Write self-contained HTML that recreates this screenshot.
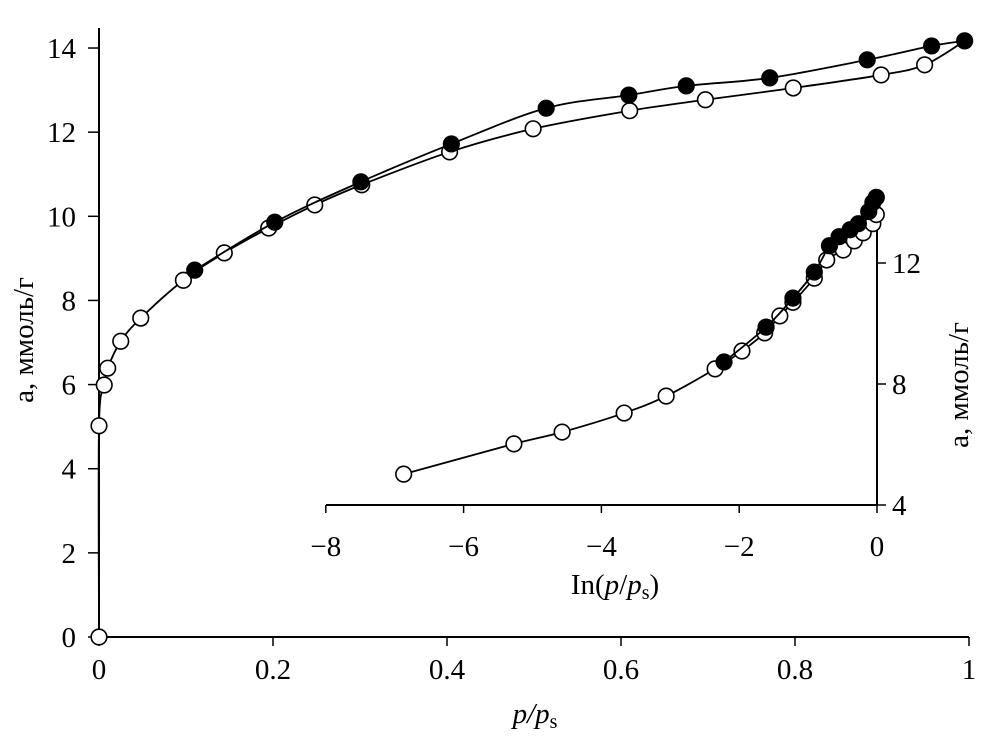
<!DOCTYPE html>
<html><head><meta charset="utf-8"><style>
html,body{margin:0;padding:0;background:#fff;}
svg text{font-family:"Liberation Serif",serif;fill:#000;}
</style></head><body>
<svg id="chart" width="1004" height="740" xmlns="http://www.w3.org/2000/svg"></svg>
<script>
// Main plot data (p/ps, a)
const mainOpenX=[0,0,0.006,0.010,0.025,0.048,0.097,0.144,0.195,0.248,0.302,0.403,0.499,0.610,0.697,0.798,0.899,0.949,0.995];
const mainOpenY=[0,5.02,5.99,6.39,7.03,7.58,8.48,9.13,9.72,10.27,10.75,11.53,12.08,12.51,12.77,13.05,13.36,13.6,14.17];
const mainFillX=[0.110,0.202,0.301,0.405,0.514,0.609,0.675,0.771,0.883,0.957,0.995];
const mainFillY=[8.72,9.86,10.82,11.72,12.57,12.88,13.1,13.29,13.72,14.05,14.17];
const mainXTicks=[0,0.2,0.4,0.6,0.8,1];
const mainXTickLabels=["0","0.2","0.4","0.6","0.8","1"];
const mainYTicks=[0,2,4,6,8,10,12,14];
// Inset data (ln(p/ps), a)
const inOpenX=[-6.87,-5.27,-4.57,-3.67,-3.06,-2.35,-1.96,-1.63,-1.41,-1.22,-0.91,-0.73,-0.49,-0.33,-0.2,-0.06,-0.01];
const inOpenY=[5.02,6.02,6.41,7.04,7.60,8.50,9.09,9.69,10.25,10.7,11.5,12.1,12.43,12.73,13.0,13.3,13.6];
const inFillX=[-2.22,-1.61,-1.22,-0.91,-0.69,-0.55,-0.39,-0.27,-0.12,-0.06,-0.01];
const inFillY=[8.73,9.88,10.84,11.7,12.57,12.87,13.1,13.3,13.7,14.0,14.17];
const inXTicks=[-8,-6,-4,-2,0];
const inXTickLabels=["\u22128","\u22126","\u22124","\u22122","0"];
const inYTicks=[4,8,12];

const NS="http://www.w3.org/2000/svg";
const svg=document.getElementById('chart');
function mk(tag,attrs,parent){const e=document.createElementNS(NS,tag);for(const k in attrs)e.setAttribute(k,attrs[k]);(parent||svg).appendChild(e);return e;}
const mx=v=>99+v*870, my=v=>637-v*42.07;
const ix=v=>877+v*68.9, iy=v=>505-(v-4)*30.25;
const FS=29;

function smoothPath(pts){
  let d=`M${pts[0][0]},${pts[0][1]}`;
  for(let i=0;i<pts.length-1;i++){
    const p0=pts[Math.max(0,i-1)],p1=pts[i],p2=pts[i+1],p3=pts[Math.min(pts.length-1,i+2)];
    const c1=[p1[0]+(p2[0]-p0[0])/6,p1[1]+(p2[1]-p0[1])/6];
    const c2=[p2[0]-(p3[0]-p1[0])/6,p2[1]-(p3[1]-p1[1])/6];
    d+=` C${c1[0]},${c1[1]} ${c2[0]},${c2[1]} ${p2[0]},${p2[1]}`;
  }
  return d;
}
function series(xs,ys,fx,fy,filled,name){
  const g=mk('g',{});
  
  
  const pts=xs.map((x,i)=>[fx(x),fy(ys[i])]);
  const p=mk('path',{d:smoothPath(pts),fill:'none',stroke:'#000','stroke-width':1.8},g);
  
  
  xs.forEach((x,i)=>{
    if(!filled && name.startsWith('main') && i===xs.length-1) return;
    const c=mk('circle',{cx:fx(x),cy:fy(ys[i]),r:7.8,fill:filled?'#000':'#fff',stroke:'#000','stroke-width':1.6},g);
    
    
  });
}
// Main axes
const ax=mk('g',{});


mk('line',{x1:99,y1:637,x2:969,y2:637,stroke:'#000','stroke-width':2},ax);
mk('line',{x1:99,y1:637,x2:99,y2:28,stroke:'#000','stroke-width':2},ax);
mainXTicks.forEach((v,i)=>{
  mk('line',{x1:mx(v),y1:637,x2:mx(v),y2:646,stroke:'#000','stroke-width':1.5},ax);
  const t=mk('text',{x:mx(v),y:679,'text-anchor':'middle','font-size':FS},ax);
  t.textContent=mainXTickLabels[i];
  
  
});
mainYTicks.forEach(v=>{
  mk('line',{x1:88,y1:my(v),x2:99,y2:my(v),stroke:'#000','stroke-width':1.5},ax);
  const t=mk('text',{x:76,y:my(v)+10,'text-anchor':'end','font-size':FS},ax);
  t.textContent=v;
  
  
});
const xt=mk('text',{x:535,y:723,'text-anchor':'middle','font-size':FS,'font-style':'italic'});
xt.innerHTML='p/p<tspan font-size="20" font-style="normal" dy="5">s</tspan>';


const yt=mk('text',{x:0,y:0,'text-anchor':'middle','font-size':FS,transform:'translate(33,340) rotate(-90)'});
yt.textContent='a, ммоль/г';



// Inset axes
const ia=mk('g',{});


mk('line',{x1:326,y1:505,x2:877,y2:505,stroke:'#000','stroke-width':2},ia);
mk('line',{x1:877,y1:505,x2:877,y2:195,stroke:'#000','stroke-width':2},ia);
inXTicks.forEach((v,i)=>{
  mk('line',{x1:ix(v),y1:505,x2:ix(v),y2:513,stroke:'#000','stroke-width':1.5},ia);
  const t=mk('text',{x:ix(v),y:556,'text-anchor':'middle','font-size':FS},ia);
  t.textContent=inXTickLabels[i];
  
  
});
inYTicks.forEach(v=>{
  mk('line',{x1:877,y1:iy(v),x2:886,y2:iy(v),stroke:'#000','stroke-width':1.5},ia);
  const t=mk('text',{x:892,y:iy(v)+10,'text-anchor':'start','font-size':FS},ia);
  t.textContent=v;
  
  
});
const ixt=mk('text',{x:615,y:594,'text-anchor':'middle','font-size':FS});
ixt.innerHTML='In(<tspan font-style="italic">p</tspan>/<tspan font-style="italic">p</tspan><tspan font-size="20" dy="5">s</tspan><tspan dy="-5">)</tspan>';


const iyt=mk('text',{x:0,y:0,'text-anchor':'middle','font-size':FS,transform:'translate(968,385) rotate(-90)'});
iyt.textContent='a, ммоль/г';



series(mainOpenX,mainOpenY,mx,my,false,'main-adsorption');
series(mainFillX,mainFillY,mx,my,true,'main-desorption');
series(inOpenX,inOpenY,ix,iy,false,'inset-adsorption');
series(inFillX,inFillY,ix,iy,true,'inset-desorption');
</script>
</body></html>
